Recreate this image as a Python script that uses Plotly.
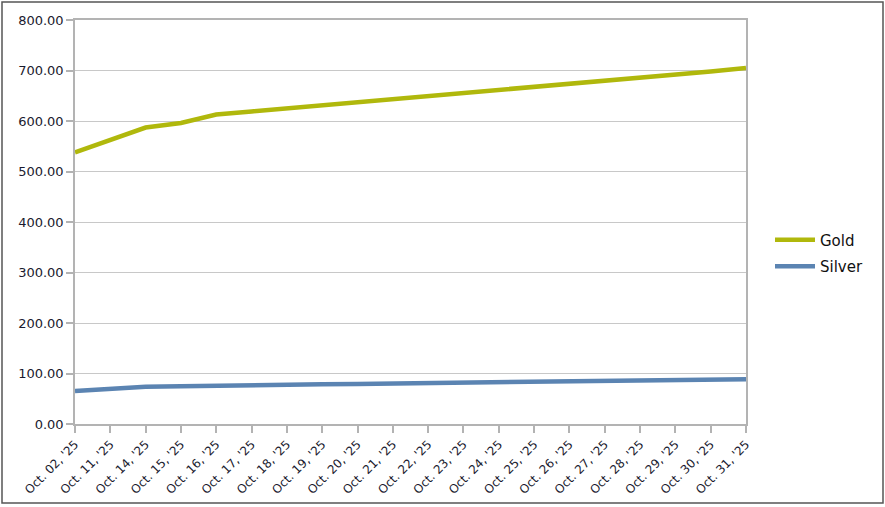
import plotly.graph_objects as go

dates = ["Oct. 02, '25", "Oct. 11, '25", "Oct. 14, '25", "Oct. 15, '25", "Oct. 16, '25",
         "Oct. 17, '25", "Oct. 18, '25", "Oct. 19, '25", "Oct. 20, '25", "Oct. 21, '25",
         "Oct. 22, '25", "Oct. 23, '25", "Oct. 24, '25", "Oct. 25, '25", "Oct. 26, '25",
         "Oct. 27, '25", "Oct. 28, '25", "Oct. 29, '25", "Oct. 30, '25", "Oct. 31, '25"]
gold = [538, 563, 587, 596, 613, 619, 625, 631, 637, 643,
        649, 655, 661, 667, 673, 679, 685, 691, 698, 705]
silver = [65.3, 70.6, 73.8, 74.8, 76.2, 77.0, 77.8, 78.6, 79.4, 80.2,
          81.0, 81.8, 82.6, 83.4, 84.2, 85.0, 85.8, 86.6, 87.6, 88.6]
y_ticks = [0, 100, 200, 300, 400, 500, 600, 700, 800]

fig = go.Figure()
fig.add_trace(go.Scatter(x=dates, y=gold, name="Gold", mode="lines", legendgroup="g",
                         line=dict(color="#b0b80c", width=4.5)))
fig.add_trace(go.Scatter(x=dates, y=silver, name="Silver", mode="lines", legendgroup="s",
                         line=dict(color="#5b84b2", width=4.5)))

axis_col = "#b3b3b3"
L, R, T, B = 75, 746, 20, 424
W, H = 885, 507
pw, ph = R - L, B - T
fig.update_layout(
    width=W, height=H,
    margin=dict(l=L, r=W - R, t=T, b=H - B, autoexpand=False),
    paper_bgcolor="white", plot_bgcolor="white",
    font=dict(family="DejaVu Sans", size=12, color="#1a1a2e"),
    showlegend=True,
    legend=dict(x=(770 - L) / pw, y=(B - 253) / ph, xanchor="left", yanchor="middle",
                font=dict(size=15, color="#111"), itemwidth=40, tracegroupgap=4,
                bgcolor="rgba(0,0,0,0)"),
    xaxis=dict(type="category", tickangle=-45, showline=True, linecolor=axis_col,
               linewidth=1.5, mirror=True, ticks="outside", ticklen=7,
               tickcolor=axis_col, tickwidth=1.5, showgrid=False, automargin=False,
               range=[0, len(dates) - 1], tickfont=dict(size=12)),
    yaxis=dict(range=[0, 800], tickvals=y_ticks, tickformat=".2f", automargin=False,
               showline=True, linecolor=axis_col, linewidth=1.5, mirror=True,
               ticks="outside", ticklen=7, tickcolor=axis_col, tickwidth=1.5,
               gridcolor="#c8c8c8", gridwidth=1.2, zeroline=False,
               tickfont=dict(size=13)),
    shapes=[dict(type="rect", xref="paper", yref="paper",
                 x0=(2 - L) / pw, x1=(883 - L) / pw,
                 y0=-(503 - B) / ph, y1=(B - 2) / ph,
                 line=dict(color="#555", width=1.5))],
)
fig.write_html("out.html", config={"displayModeBar": False},
               post_script="document.body.style.margin='0px';document.body.style.overflow='hidden';")
